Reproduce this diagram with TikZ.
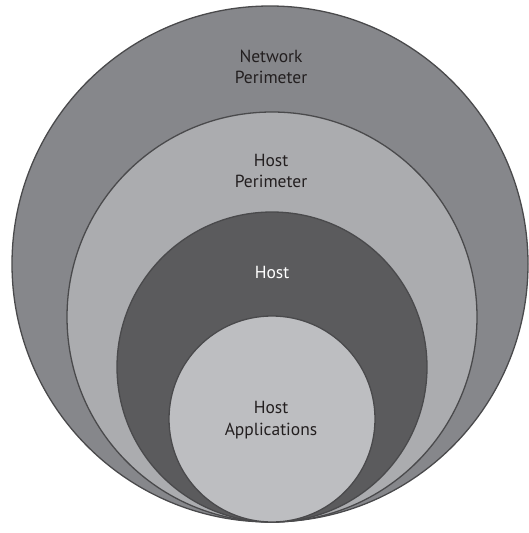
\documentclass[tikz,border=0pt]{standalone}
\usepackage{fontspec}
\setmainfont{PT Sans}
\definecolor{ringA}{HTML}{86878B}
\definecolor{ringB}{HTML}{ABACAF}
\definecolor{ringC}{HTML}{5B5B5D}
\definecolor{ringD}{HTML}{BDBEC1}
\definecolor{edgec}{HTML}{4A4A4C}
\definecolor{txt}{HTML}{231F20}
\tikzset{
  ring/.style={circle, draw=edgec, line width=1.3pt, inner sep=0pt},
  lbl/.style={align=center, font=\fontsize{17.5}{21.5}\selectfont, text=txt, inner sep=0pt}
}
\begin{document}
\begin{tikzpicture}[x=1pt,y=-1pt]
\useasboundingbox (0,0) rectangle (528,533);
\node[ring, fill=ringA, minimum size=516pt] (net) at (270,264) {};
\node[ring, fill=ringB, minimum size=410pt] (hper) at (272,317) {};
\node[ring, fill=ringC, minimum size=310pt] (host) at (272,367) {};
\node[ring, fill=ringD, minimum size=206pt] (app) at (272,419) {};
\node[lbl] (tnet) at (271,67) {Network\\Perimeter};
\node[lbl] (thper) at (271,171) {Host\\Perimeter};
\node[lbl, text=white] (thost) at (272,272) {Host};
\node[lbl] (tapp) at (271,420) {Host\\Applications};
\end{tikzpicture}
\end{document}
